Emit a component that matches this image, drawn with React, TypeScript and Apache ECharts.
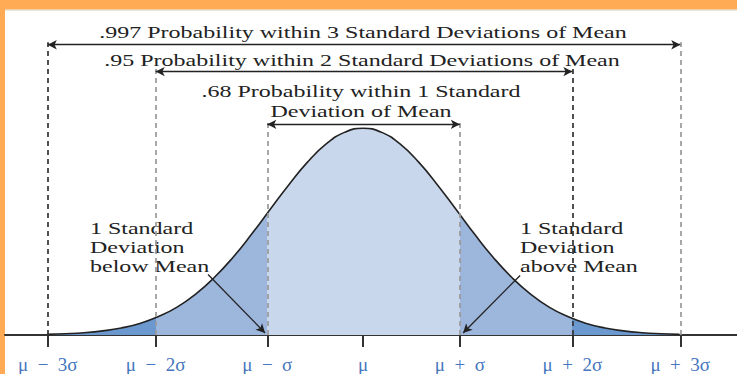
import React, { useEffect, useRef } from "react";
import * as echarts from "echarts";

// Curve of the bell shape (x in curve units, y relative to peak)
const curveX = [-3.4, -3.2, -3.0, -2.8, -2.6, -2.4, -2.2, -2.0, -1.8, -1.6, -1.4, -1.2, -1.0, -0.8, -0.6, -0.4, -0.2, 0,
  0.2, 0.4, 0.6, 0.8, 1.0, 1.2, 1.4, 1.6, 1.8, 2.0, 2.2, 2.4, 2.6, 2.8, 3.0, 3.2, 3.4];
const curveY = [0.003, 0.006, 0.011, 0.02, 0.034, 0.056, 0.089, 0.135, 0.198, 0.278, 0.375, 0.487, 0.607, 0.726, 0.835, 0.923, 0.98, 1,
  0.98, 0.923, 0.835, 0.726, 0.607, 0.487, 0.375, 0.278, 0.198, 0.135, 0.089, 0.056, 0.034, 0.02, 0.011, 0.006, 0.003];

// Tick positions (as drawn in the picture) and their labels
const tickPositions = [-3.39, -2.23, -1.03, 0, 1.04, 2.25, 3.41];
const tickLabels = ["μ\u2002−\u20023σ", "μ\u2002−\u20022σ", "μ\u2002−\u2002σ", "μ", "μ\u2002+\u2002σ", "μ\u2002+\u20022σ", "μ\u2002+\u20023σ"];

// Heights of the bracket arrows (curve units)
const arrowLevels = [1.404, 1.274, 1.019]; // 3σ, 2σ, 1σ
const guideColors = ["#333", "#999", "#999", "#999", "#999", "#333", "#999"];

const outerColor = "#6b99cf";
const midColor = "#9db6dc";
const centerColor = "#c9d7ec";

export default function App() {
  const ref = useRef<HTMLDivElement>(null);
  useEffect(() => {
    if (!ref.current) return;
    const chart = echarts.init(ref.current, null, { renderer: "svg" });
    const data = curveX.map((x, i) => [x, curveY[i]]);
    const guideTop = [arrowLevels[0], arrowLevels[1], arrowLevels[2], null, arrowLevels[2], arrowLevels[1], arrowLevels[0]];
    const guides: any[] = [];
    tickPositions.forEach((x, i) => {
      if (guideTop[i] == null) return;
      guides.push([
        { coord: [x, 0], lineStyle: { color: guideColors[i], type: [5, 4], width: 1.7 } },
        { coord: [x, (guideTop[i] as number) + 0.012] },
      ]);
    });
    const arrowStyle = { color: "#222", width: 1.4, type: "solid" };
    const hArrows = [
      [0, 6],
      [1, 5],
      [2, 4],
    ].map(([a, b], k) => [
      { coord: [tickPositions[a], arrowLevels[k]], symbol: "arrow", lineStyle: arrowStyle },
      { coord: [tickPositions[b], arrowLevels[k]], symbol: "arrow" },
    ]);
    const dArrows = [
      [
        { coord: [-1.667, 0.293], symbol: "none", lineStyle: { color: "#222", width: 1.3, type: "solid" } },
        { coord: [-1.054, 0.01], symbol: "arrow" },
      ],
      [
        { coord: [1.688, 0.288], symbol: "none", lineStyle: { color: "#222", width: 1.3, type: "solid" } },
        { coord: [1.075, 0.01], symbol: "arrow" },
      ],
    ];
    const serif = "'Liberation Serif', 'Times New Roman', serif";
    const textStyle = (text: string, x: number, y: number, align: string) => ({
      type: "text",
      x,
      y,
      scaleX: 1.5,
      silent: true,
      style: {
        text,
        font: `16px ${serif}`,
        fill: "#222",
        textAlign: align,
        textVerticalAlign: "middle",
        lineHeight: 19.5,
      },
    });
    chart.setOption({
      animation: false,
      backgroundColor: "#ffffff",
      grid: { left: 5, right: 0, top: 4.2, bottom: 37, containLabel: false },
      xAxis: {
        type: "value",
        min: -3.85,
        max: 4.02,
        splitLine: { show: false },
        axisLine: { lineStyle: { color: "#333", width: 2 } },
        axisTick: { customValues: tickPositions, length: 12, lineStyle: { color: "#333", width: 2 } },
        axisLabel: {
          customValues: tickPositions,
          margin: 20,
          color: "#4576be",
          fontFamily: serif,
          fontSize: 19,
          formatter: (v: number) => {
            let best = 0;
            tickPositions.forEach((p, i) => {
              if (Math.abs(p - v) < Math.abs(tickPositions[best] - v)) best = i;
            });
            return tickLabels[best];
          },
        },
      },
      yAxis: { type: "value", min: 0, max: 1.6, show: false, splitLine: { show: false } },
      visualMap: {
        show: false,
        type: "piecewise",
        dimension: 0,
        seriesIndex: 1,
        pieces: [
          { lt: tickPositions[1], color: outerColor },
          { gte: tickPositions[1], lt: tickPositions[2], color: midColor },
          { gte: tickPositions[2], lt: tickPositions[4], color: centerColor },
          { gte: tickPositions[4], lt: tickPositions[5], color: midColor },
          { gte: tickPositions[5], color: outerColor },
        ],
      },
      series: [
        {
          type: "line",
          data: [],
          z: 1,
          silent: true,
          markLine: {
            silent: true,
            symbol: ["none", "none"],
            label: { show: false },
            emphasis: { disabled: true },
            data: guides,
          },
        },
        {
          type: "line",
          data,
          z: 2,
          smooth: true,
          symbol: "none",
          silent: true,
          lineStyle: { color: "#222", width: 1.6 },
          areaStyle: { opacity: 1 },
        },
        {
          type: "line",
          data: [],
          z: 3,
          silent: true,
          markLine: {
            silent: true,
            symbolSize: [7, 9],
            label: { show: false },
            emphasis: { disabled: true },
            data: [...hArrows, ...dArrows],
          },
        },
      ],
      graphic: [
        { type: "rect", shape: { x: 0, y: 0, width: 737, height: 9.5 }, style: { fill: "#ffaa55" }, silent: true },
        { type: "rect", shape: { x: 5, y: 9.5, width: 732, height: 1 }, style: { fill: "#d9cdb4" }, silent: true },
        { type: "rect", shape: { x: 0, y: 0, width: 5, height: 374 }, style: { fill: "#ffaa55" }, silent: true },
        textStyle(".997 Probability within 3 Standard Deviations of Mean", 363, 33, "center"),
        textStyle(".95 Probability within 2 Standard Deviations of Mean", 362, 61, "center"),
        textStyle(".68 Probability within 1 Standard\nDeviation of Mean", 361, 101.5, "center"),
        textStyle("1 Standard\nDeviation\nbelow Mean", 90, 247.5, "left"),
        textStyle("1 Standard\nDeviation\nabove Mean", 520, 247.5, "left"),
      ],
    });
    return () => chart.dispose();
  }, []);
  return (
    <div
      ref={ref}
      style={{ position: "fixed", left: 0, top: 0, width: 737, height: 374 }}
    />
  );
}
